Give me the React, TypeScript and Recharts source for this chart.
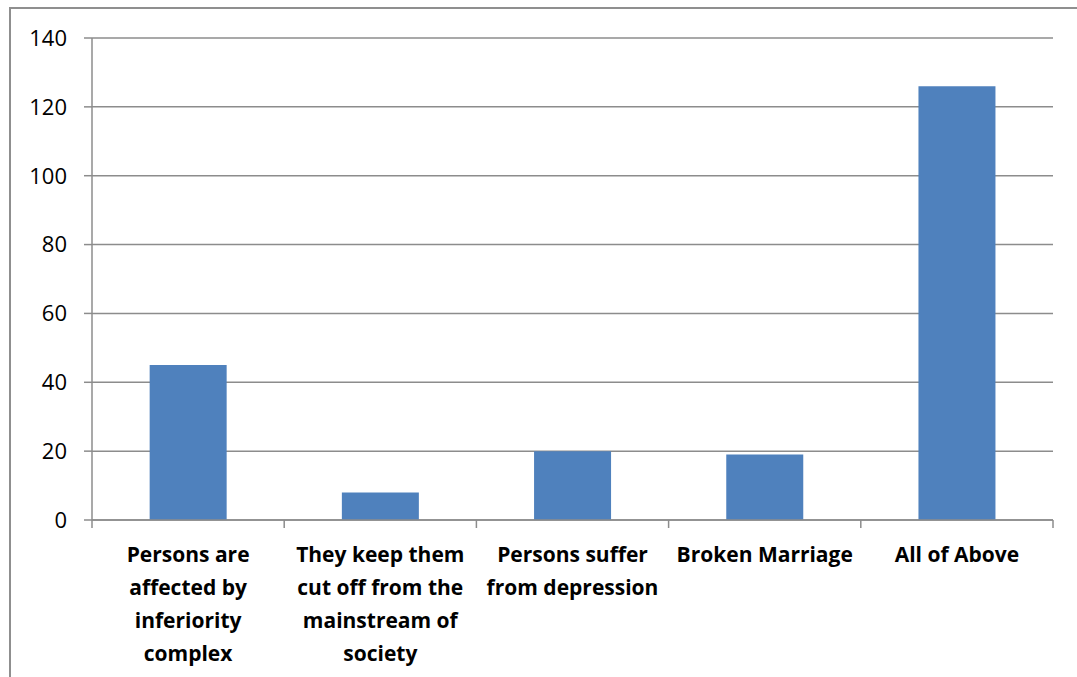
import React from "react";
import { BarChart, Bar, XAxis, YAxis, CartesianGrid } from "recharts";

// Reasons and respondent counts
const categories = [
  "Persons are\naffected by\ninferiority\ncomplex",
  "They keep them\ncut off from the\nmainstream of\nsociety",
  "Persons suffer\nfrom depression",
  "Broken Marriage",
  "All of Above",
];
const counts = [45, 8, 20, 19, 126];
const yTicks = [0, 20, 40, 60, 80, 100, 120, 140];

const data = categories.map((name, i) => ({ name, value: counts[i] }));

const FONT = "'Open Sans', sans-serif";
const AXIS = "#8c8c8c";
const TICK_LEN = 8;

// Category label plus tick marks at the band edges (Excel style)
function CategoryTick(props: any) {
  const { x, y, payload, index, visibleTicksCount } = props;
  const lines: string[] = String(payload.value).split("\n");
  const half = payload.offset || 96;
  const axisY = y - TICK_LEN;
  const isLast = index === visibleTicksCount - 1;
  return (
    <g>
      <line x1={x - half} x2={x - half} y1={axisY} y2={axisY + TICK_LEN} stroke={AXIS} strokeWidth={1.5} />
      {isLast && (
        <line x1={x + half} x2={x + half} y1={axisY} y2={axisY + TICK_LEN} stroke={AXIS} strokeWidth={1.5} />
      )}
      <text
        x={x}
        y={y + 34}
        textAnchor="middle"
        fontFamily={FONT}
        fontWeight="bold"
        fontSize={21}
        fill="#000"
      >
        {lines.map((line, i) => (
          <tspan key={i} x={x} dy={i === 0 ? 0 : 33}>
            {line}
          </tspan>
        ))}
      </text>
    </g>
  );
}

export default function App() {
  return (
    <div
      style={{
        position: "fixed",
        left: 0,
        top: 0,
        width: 1077,
        height: 677,
        background: "#fff",
        overflow: "hidden",
      }}
    >
      {/* outer chart frame, open at right and bottom */}
      <div
        style={{
          position: "absolute",
          left: 9,
          top: 7,
          width: 1100,
          height: 700,
          border: "2px solid #8f8f8f",
        }}
      />
      <div style={{ position: "absolute", left: 0, top: 0 }}>
        <BarChart
          width={1077}
          height={677}
          data={data}
          margin={{ top: 38, right: 24, left: 0, bottom: 0 }}
          barCategoryGap="30%"
        >
          <CartesianGrid vertical={false} stroke={AXIS} strokeWidth={1.5} />
          <XAxis
            dataKey="name"
            height={157}
            interval={0}
            stroke={AXIS}
            strokeWidth={1.5}
            tickSize={TICK_LEN}
            tickMargin={0}
            tickLine={{ stroke: "none" }}
            tick={<CategoryTick />}
          />
          <YAxis
            width={92}
            domain={[0, 140]}
            ticks={yTicks}
            interval={0}
            stroke={AXIS}
            strokeWidth={1.5}
            tickSize={TICK_LEN}
            tickMargin={17}
            tick={{ fill: "#000", fontSize: 22, fontFamily: FONT }}
          />
          <Bar dataKey="value" fill="#4f81bd" isAnimationActive={false} />
        </BarChart>
      </div>
    </div>
  );
}
